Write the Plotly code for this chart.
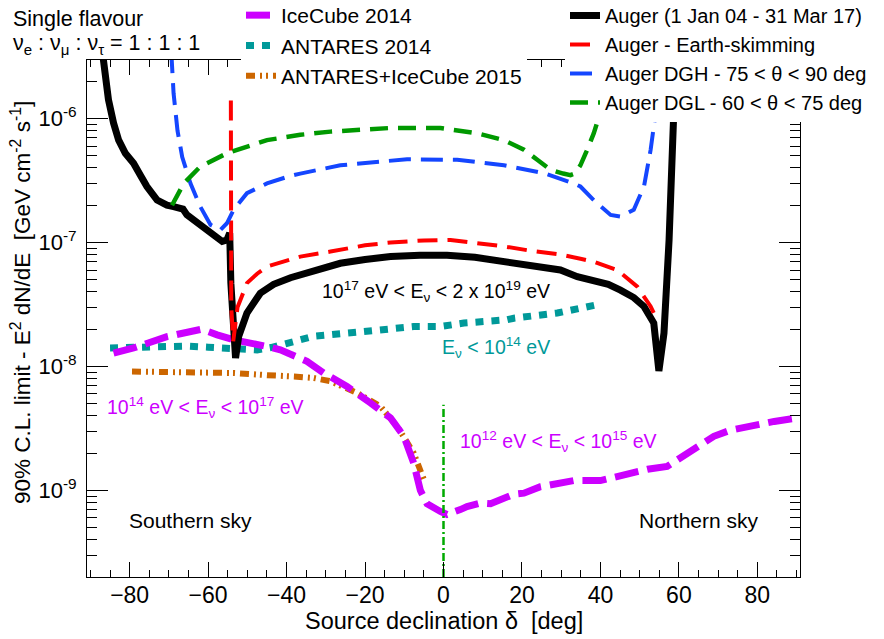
import plotly.graph_objects as go
import numpy as np

# ---------------- data ----------------
auger_x = [-87.2, -86.6, -86.0, -85.4, -84.1, -82.8, -81.1, -79.0, -77.3, -75.6, -73.0, -70.5,
           -68.8, -67.1, -66.4, -65.4, -62.0, -58.6, -56.4, -55.2, -54.5, -54.2, -53.5, -53.0,
           -52.2, -50.1, -46.7, -43.3, -39.0, -32.0, -26.3, -20.0, -13.5, -6.0, 0.9, 8.0, 16.2,
           21.0, 25.6, 29.8, 34.1, 38.3, 42.0, 45.1, 48.5, 51.1, 53.0, 53.6, 54.9, 56.2, 57.5,
           58.3, 58.7, 59.2]
auger_y = [4.0e-6, 2.9e-6, 1.93e-6, 1.42e-6, 9.2e-7, 6.7e-7, 5.25e-7, 4.36e-7, 3.5e-7, 2.83e-7,
           2.2e-7, 2.0e-7, 1.95e-7, 1.84e-7, 1.86e-7, 1.67e-7, 1.39e-7, 1.12e-7, 1.02e-7, 1.05e-7,
           1.19e-7, 4.7e-8, 1.36e-8, 1.17e-8, 1.75e-8, 2.7e-8, 3.9e-8, 4.6e-8, 5.2e-8, 6.1e-8,
           6.8e-8, 7.3e-8, 7.7e-8, 7.9e-8, 7.9e-8, 7.6e-8, 7.0e-8, 6.6e-8, 6.2e-8, 6.0e-8, 5.3e-8,
           5.0e-8, 4.6e-8, 4.13e-8, 3.6e-8, 3.05e-8, 2.5e-8, 2.24e-8, 9.2e-9, 1.86e-8, 1.05e-7,
           3.6e-7, 1.13e-6, 4.0e-6]

es_x = [-54.2, -54.1, -53.6, -52.5, -50.1, -47.5, -45.0, -40.0, -36.5, -28.8, -20.0, -13.5,
        -5.0, 1.8, 8.0, 15.4, 22.0, 27.3, 29.8, 34.9, 38.3, 44.3, 49.4, 52.8, 54.1]
es_y = [1.4e-6, 3.0e-8, 1.6e-8, 3.0e-8, 4.7e-8, 5.6e-8, 6.4e-8, 7.2e-8, 7.7e-8, 8.45e-8, 9.5e-8,
        1.0e-7, 1.04e-7, 1.05e-7, 1.0e-7, 9.3e-8, 8.6e-8, 8.2e-8, 8.0e-8, 7.4e-8, 7.0e-8, 6.0e-8,
        4.4e-8, 3.05e-8, 2.5e-8]

dgh_x = [-69.4, -68.8, -67.8, -66.6, -64.5, -62.0, -59.4, -56.9, -55.2, -53.5, -50.1, -45.0,
         -39.0, -36.5, -26.3, -9.3, 3.5, 15.4, 25.6, 29.8, 33.2, 34.9, 38.3, 42.6, 45.1, 48.5,
         51.1, 52.8, 54.1, 55.0]
dgh_y = [3.5e-6, 1.6e-6, 8.0e-7, 4.9e-7, 3.0e-7, 1.95e-7, 1.39e-7, 1.26e-7, 1.43e-7, 1.84e-7,
         2.5e-7, 3.0e-7, 3.45e-7, 3.6e-7, 4.2e-7, 4.7e-7, 4.65e-7, 4.2e-7, 3.63e-7, 3.3e-7,
         3.0e-7, 2.83e-7, 2.2e-7, 1.67e-7, 1.62e-7, 1.84e-7, 2.83e-7, 5.6e-7, 1.13e-6, 3.5e-6]

dgl_x = [-69.2, -66.2, -62.0, -55.2, -45.0, -39.0, -36.5, -28.8, -13.5, -0.8, 8.6, 15.4, 20.5,
         23.9, 27.3, 30.5, 32.4, 33.5, 34.9, 36.5, 38.3, 40.0, 41.6]
dgl_y = [2.0e-7, 3.0e-7, 4.1e-7, 5.25e-7, 6.7e-7, 7.2e-7, 7.4e-7, 7.85e-7, 8.4e-7, 8.4e-7,
         7.6e-7, 6.7e-7, 5.6e-7, 4.65e-7, 3.86e-7, 3.6e-7, 3.5e-7, 3.6e-7, 4.2e-7, 5.5e-7,
         7.6e-7, 1.13e-6, 3.5e-6]

icecube_x = [-84.1, -79.0, -70.5, -65.4, -61.6, -57.7, -53.5, -45.0, -41.6, -38.1, -34.8, -30.5,
             -24.6, -18.6, -13.5, -10.1, -7.6, -5.9, -4.2, -0.8, 0.9, 4.3, 6.0, 9.4, 12.0, 17.9,
             20.5, 24.7, 30.0, 33.2, 40.0, 46.9, 52.0, 57.0, 62.2, 68.9, 73.0, 77.5, 84.3, 90.0]
icecube_y = [1.28e-8, 1.41e-8, 1.74e-8, 1.91e-8, 2.0e-8, 1.8e-8, 1.64e-8, 1.45e-8, 1.36e-8,
             1.22e-8, 1.1e-8, 8.85e-9, 6.9e-9, 5.07e-9, 3.84e-9, 2.73e-9, 1.66e-9, 1.0e-9, 7.8e-10,
             6.76e-10, 6.4e-10, 7.0e-10, 7.4e-10, 7.9e-10, 7.8e-10, 9.3e-10, 9.5e-10, 1.07e-9,
             1.17e-9, 1.2e-9, 1.2e-9, 1.38e-9, 1.48e-9, 1.56e-9, 2.0e-9, 2.73e-9, 3.05e-9,
             3.28e-9, 3.6e-9, 3.83e-9]

antares_x = [-85.0, -80.0, -76.4, -70.0, -65.4, -60.0, -53.5, -47.5, -44.0, -40.7, -33.1, -20.3,
             -7.6, -0.8, 5.2, 16.2, 17.9, 29.0, 34.9, 39.2]
antares_y = [1.41e-8, 1.43e-8, 1.45e-8, 1.46e-8, 1.46e-8, 1.43e-8, 1.41e-8, 1.36e-8, 1.42e-8,
             1.5e-8, 1.75e-8, 1.91e-8, 2.1e-8, 2.1e-8, 2.24e-8, 2.38e-8, 2.45e-8, 2.7e-8, 2.95e-8,
             3.15e-8]

comb_x = [-79.4, -70.0, -62.0, -53.5, -45.0, -41.6, -38.1, -33.1, -28.8, -22.0, -16.1, -11.8,
          -7.6, -5.0]
comb_y = [9.1e-9, 9.1e-9, 9.1e-9, 8.85e-9, 8.5e-9, 8.3e-9, 8.3e-9, 8.07e-9, 7.6e-9, 6.1e-9,
          4.77e-9, 3.28e-9, 2.0e-9, 1.22e-9]

divider_x = [0.0, 0.0]
divider_y = [2.0e-10, 4.9e-9]

x_range = [-90.87, 90.87]
y_range = [np.log10(2.0e-10), np.log10(2.97e-6)]
y_major_vals = [1e-9, 1e-8, 1e-7, 1e-6]
y_major_text = ["10<sup>-9</sup>", "10<sup>-8</sup>", "10<sup>-7</sup>", "10<sup>-6</sup>"]
decades = [-10, -9, -8, -7, -6]
minor_digits = [2, 3, 4, 5, 6, 7, 8, 9]

FONT = "Liberation Sans, Arial, Helvetica, sans-serif"

fig = go.Figure()

fig.add_trace(go.Scatter(x=antares_x, y=antares_y, mode="lines", name="ANTARES 2014",
                         line=dict(color="#009999", width=7, dash="8px,8px"),
                         legend="legend", legendrank=2))
fig.add_trace(go.Scatter(x=comb_x, y=comb_y, mode="lines", name="ANTARES+IceCube 2015",
                         line=dict(color="#cc6600", width=6, dash="9px,5px,2px,4px,2px,5px"),
                         legend="legend", legendrank=3))
fig.add_trace(go.Scatter(x=icecube_x, y=icecube_y, mode="lines", name="IceCube 2014",
                         line=dict(color="#cc00ff", width=7, dash="24px,9px"),
                         legend="legend", legendrank=1))
fig.add_trace(go.Scatter(x=auger_x, y=auger_y, mode="lines", name="Auger (1 Jan 04 - 31 Mar 17)",
                         line=dict(color="black", width=7), legend="legend2", legendrank=1))
fig.add_trace(go.Scatter(x=es_x, y=es_y, mode="lines", name="Auger - Earth-skimming",
                         line=dict(color="#ff0000", width=4, dash="20px,10px"),
                         legend="legend2", legendrank=2))
fig.add_trace(go.Scatter(x=dgh_x, y=dgh_y, mode="lines", name="Auger DGH - 75 < θ < 90 deg",
                         line=dict(color="#1446ff", width=4, dash="22px,10px"),
                         legend="legend2", legendrank=3))
fig.add_trace(go.Scatter(x=dgl_x, y=dgl_y, mode="lines", name="Auger DGL - 60 < θ < 75 deg",
                         line=dict(color="#009900", width=4.5, dash="18px,10px"),
                         legend="legend2", legendrank=4))
fig.add_trace(go.Scatter(x=divider_x, y=divider_y, mode="lines", showlegend=False,
                         line=dict(color="#00aa00", width=2.5, dash="8px,3px,2px,3px")))

axis_common = dict(showline=True, linecolor="black", linewidth=1, mirror="allticks",
                   ticks="inside", tickcolor="black", tickwidth=1, showgrid=False, zeroline=False)

fig.update_xaxes(range=x_range, tickmode="linear", tick0=0, dtick=20, ticklen=15,
                 ticklabelstandoff=-3, tickfont=dict(family=FONT, size=23, color="black"),
                 minor=dict(ticks="inside", dtick=5, tick0=0, ticklen=7, tickcolor="black"),
                 **axis_common)

y_minor_vals = [m * 10.0 ** d for d in decades for m in minor_digits]
fig.update_yaxes(type="log", range=y_range, tickmode="array", tickvals=y_major_vals,
                 ticktext=y_major_text, ticklen=21, ticklabelstandoff=5,
                 tickfont=dict(family=FONT, size=22, color="black"),
                 minor=dict(ticks="inside", tickmode="array", tickvals=y_minor_vals,
                            ticklen=10, tickcolor="black"),
                 **axis_common)

# the page body adds an 8 px offset; positions below are given in page pixels
OFF = 8
L, T, PW, PH = 79, 52, 713, 517
R, B = 884 - L - PW, 639 - T - PH


def px(xp):
    return (xp - OFF - L) / PW


def py(yp):
    return (T + PH - (yp - OFF)) / PH


annotations = [
    dict(text="Single flavour", x=px(11), y=py(19), xref="paper", yref="paper",
         xanchor="left", yanchor="middle", showarrow=False, font=dict(size=21.5)),
    dict(text="ν<sub>e</sub> : ν<sub>μ</sub> : ν<sub>τ</sub> = 1 : 1 : 1", x=px(11), y=py(45),
         xref="paper", yref="paper", xanchor="left", yanchor="middle", showarrow=False,
         font=dict(size=21.5)),
    dict(text="Source declination δ\u00a0\u00a0[deg]", x=px(444), y=py(621), xref="paper",
         yref="paper", xanchor="center", yanchor="middle", showarrow=False,
         font=dict(size=23.5)),
    dict(text="90% C.L. limit - E<sup>2</sup> dN/dE\u00a0\u00a0[GeV cm<sup>-2</sup> s<sup>-1</sup>]",
         x=px(21), y=py(303), xref="paper", yref="paper", xanchor="center", yanchor="middle",
         textangle=-90, showarrow=False, font=dict(size=22.5)),
    dict(text="10<sup>17</sup> eV < E<sub>ν</sub> < 2 x 10<sup>19</sup> eV", x=-1.8, y=-7.398,
         showarrow=False, font=dict(size=19.5, color="black")),
    dict(text="E<sub>ν</sub> < 10<sup>14</sup> eV", x=13.5, y=-7.849,
         showarrow=False, font=dict(size=19.5, color="#009999")),
    dict(text="10<sup>14</sup> eV < E<sub>ν</sub> < 10<sup>17</sup> eV", x=-60.7, y=-8.333,
         showarrow=False, font=dict(size=19.5, color="#cc00ff")),
    dict(text="10<sup>12</sup> eV < E<sub>ν</sub> < 10<sup>15</sup> eV", x=29.3, y=-8.607,
         showarrow=False, font=dict(size=19.5, color="#cc00ff")),
    dict(text="Southern sky", x=-64.5, y=-9.244, showarrow=False, font=dict(size=21)),
    dict(text="Northern sky", x=65.0, y=-9.244, showarrow=False, font=dict(size=21)),
]

fig.update_layout(
    width=884, height=639,
    margin=dict(l=L, r=R, t=T, b=B, autoexpand=False),
    paper_bgcolor="white", plot_bgcolor="white",
    font=dict(family=FONT, size=20, color="black"),
    annotations=annotations,
    legend=dict(x=px(241), y=py(-5), xanchor="left", yanchor="top", bgcolor="white",
                font=dict(size=21), traceorder="normal", tracegroupgap=0, borderwidth=0),
    legend2=dict(x=px(565), y=py(-4), xanchor="left", yanchor="top", bgcolor="white",
                 font=dict(size=20), traceorder="normal", tracegroupgap=0, borderwidth=0),
)

fig.write_html("out.html")
